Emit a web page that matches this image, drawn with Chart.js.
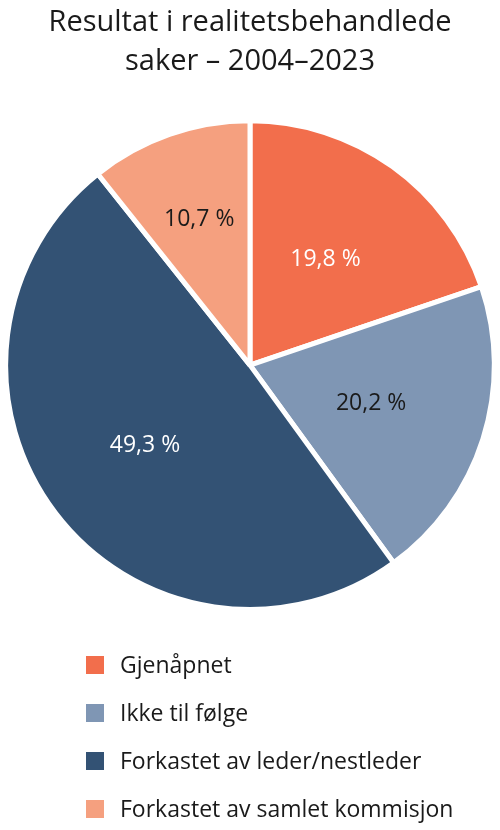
<!DOCTYPE html>
<html>
<head>
<meta charset="utf-8">
<script src="https://cdn.jsdelivr.net/npm/chart.js@4"></script>
<style>
  html, body { margin: 0; padding: 0; background: #fff; }
  #wrap { width: 500px; height: 830px; }
</style>
</head>
<body>
<div id="wrap"><canvas id="pie" width="500" height="830"></canvas></div>
<script>
// Data
const titleLines = ['Resultat i realitetsbehandlede', 'saker – 2004–2023'];
const categories = ['Gjenåpnet', 'Ikke til følge', 'Forkastet av leder/nestleder', 'Forkastet av samlet kommisjon'];
const shares = [19.8, 20.2, 49.3, 10.7];
const sliceColors = ['#f26e4c', '#7f96b4', '#335274', '#f5a07f'];
const labelColors = ['#ffffff', '#1a1a1a', '#ffffff', '#1a1a1a'];

const FONT = "'Open Sans', sans-serif";

// percentage labels inside the slices
const sliceLabels = {
  id: 'sliceLabels',
  afterDatasetsDraw(chart, args, opts) {
    const ctx = chart.ctx;
    const meta = chart.getDatasetMeta(0);
    ctx.save();
    ctx.font = opts.size + 'px ' + FONT;
    ctx.textAlign = 'center';
    ctx.textBaseline = 'middle';
    meta.data.forEach((arc, i) => {
      const mid = (arc.startAngle + arc.endAngle) / 2;
      const r = arc.outerRadius * opts.radius[i];
      const x = arc.x + Math.cos(mid) * r;
      const y = arc.y + Math.sin(mid) * r;
      ctx.fillStyle = labelColors[i];
      ctx.fillText(shares[i].toFixed(1).replace('.', ',') + ' %', x, y);
    });
    ctx.restore();
  }
};

// legend stacked one item per row under the pie
const stackedLegend = {
  id: 'stackedLegend',
  afterDraw(chart, args, opts) {
    const ctx = chart.ctx;
    const ds = chart.data.datasets[0];
    ctx.save();
    ctx.font = opts.size + 'px ' + FONT;
    ctx.textBaseline = 'middle';
    ctx.textAlign = 'left';
    chart.data.labels.forEach((lab, i) => {
      const y = opts.top + i * opts.step;
      ctx.fillStyle = ds.backgroundColor[i];
      ctx.fillRect(opts.left, y - opts.box / 2, opts.box, opts.box);
      ctx.fillStyle = '#1a1a1a';
      ctx.fillText(lab, opts.textLeft, y + 1);
    });
    ctx.restore();
  }
};

new Chart(document.getElementById('pie'), {
  type: 'pie',
  data: {
    labels: categories,
    datasets: [{
      data: shares,
      backgroundColor: sliceColors,
      borderColor: '#ffffff',
      borderWidth: 5
    }]
  },
  options: {
    responsive: false,
    animation: false,
    layout: { padding: { top: 0, bottom: 218, left: 3, right: 3 } },
    plugins: {
      legend: { display: false },
      tooltip: { enabled: false },
      title: {
        display: true,
        text: titleLines,
        color: '#1a1a1a',
        font: { family: FONT, size: 29, weight: 'normal', lineHeight: 1.35 },
        padding: { top: 3, bottom: 37 }
      },
      sliceLabels: { size: 23, radius: [0.53, 0.52, 0.54, 0.63] },
      stackedLegend: { size: 23, top: 665, step: 48, left: 86, box: 18, textLeft: 120 }
    }
  },
  plugins: [sliceLabels, stackedLegend]
});
</script>
</body>
</html>
